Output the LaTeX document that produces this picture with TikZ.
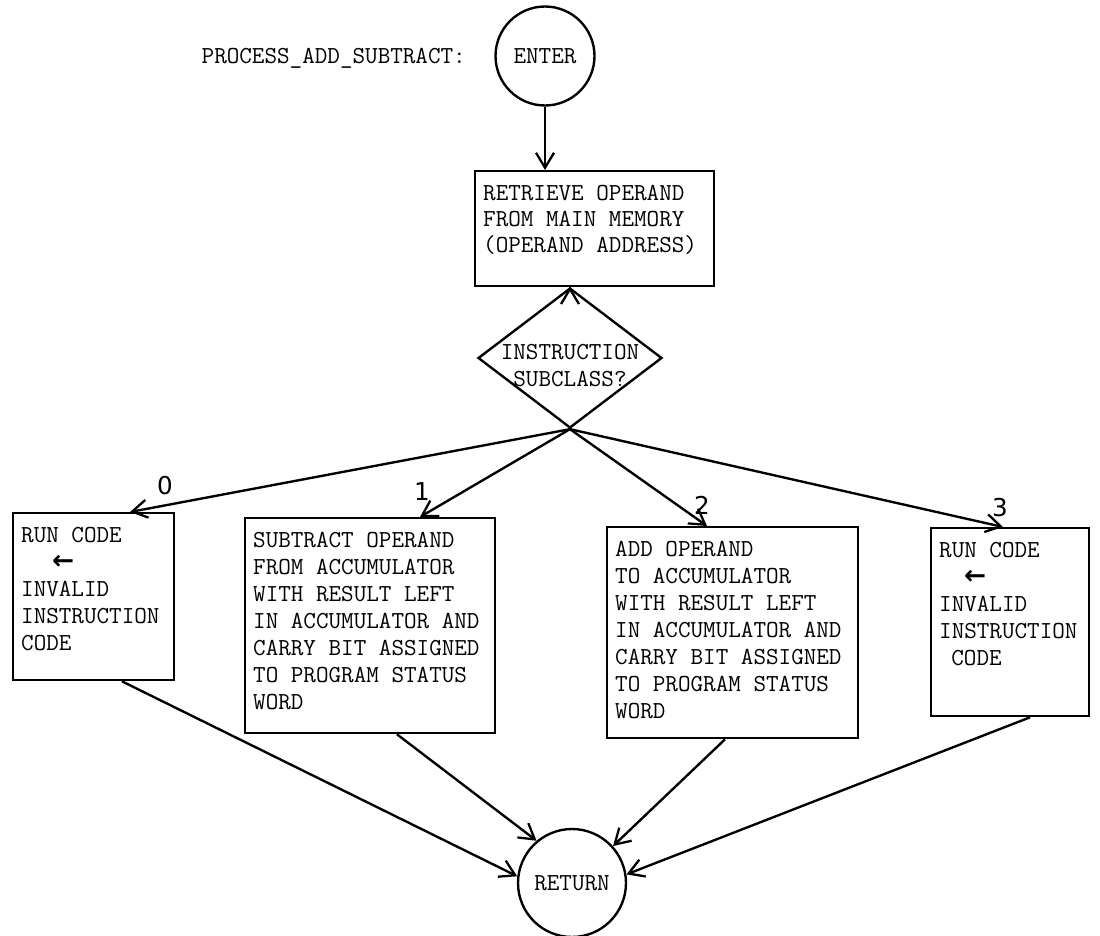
\documentclass[tikz,border=0pt]{standalone}
\usepackage{fontspec}
\newfontfamily\symfont{DejaVu Sans}
\usetikzlibrary{arrows.meta,shapes.geometric,calc}

% typewriter face used for all printed text
\newcommand\tw{\ttfamily\addfontfeature{FakeBold=1.6}}
% fixed-size, top-aligned text block for the process boxes
\newcommand\boxbody[3]{\begin{minipage}[t][#2][t]{#1}\raggedright #3\end{minipage}}
\newcommand\backarrow{{\symfont\bfseries\fontsize{15}{15.4}\selectfont ←}}

\begin{document}
\begin{tikzpicture}[x=0.02cm,y=-0.02cm,
  every node/.style={font=\tw\fontsize{13.9}{15.4}\selectfont},
  flow/.style={line width=1.35pt,-{Straight Barb[length=3mm,width=3.6mm,line width=1.3pt]}},
  procbox/.style={draw,rectangle,line width=1.35pt,inner xsep=0.16cm,inner ysep=0.28cm,anchor=north west},
  term/.style={draw,circle,line width=1.35pt,inner sep=0pt},
  decision/.style={draw,diamond,line width=1.35pt,inner sep=0pt},
  branch/.style={font=\symfont\fontsize{14}{14}\selectfont}
]
\useasboundingbox (0,0) rectangle (1100,936);

% entry point and its label
\node[term,minimum size=1.98cm] (enter) at (545,56) {ENTER};
\node[anchor=east] (title) at (472,58) {PROCESS\_ADD\_SUBTRACT:};

% operand fetch
\node[procbox,font=\tw\fontsize{13.9}{14.8}\selectfont] (fetch) at (474,170)
  {\boxbody{4.46cm}{1.74cm}{RETRIEVE OPERAND\\FROM MAIN MEMORY\\(OPERAND ADDRESS)}};

% subclass test
\node[decision,minimum width=3.68cm,minimum height=2.8cm] (dec) at (570,358) {};
\node[align=center,font=\tw\fontsize{13.9}{15.4}\selectfont] (dectext) at (570,366) {INSTRUCTION\\SUBCLASS?};

% the four branches
\node[procbox] (b0) at (12,512)
  {\boxbody{2.9cm}{2.78cm}{RUN CODE\\\hspace*{0.62cm}\backarrow\\INVALID\\INSTRUCTION\\CODE}};
\node[procbox] (b1) at (244,517)
  {\boxbody{4.68cm}{3.74cm}{SUBTRACT OPERAND\\FROM ACCUMULATOR\\WITH RESULT LEFT\\IN ACCUMULATOR AND\\CARRY BIT ASSIGNED\\TO PROGRAM STATUS\\WORD}};
\node[procbox] (b2) at (606,526)
  {\boxbody{4.7cm}{3.66cm}{ADD OPERAND\\TO ACCUMULATOR\\WITH RESULT LEFT\\IN ACCUMULATOR AND\\CARRY BIT ASSIGNED\\TO PROGRAM STATUS\\WORD}};
\node[procbox] (b3) at (930,527)
  {\boxbody{2.84cm}{3.2cm}{RUN CODE\\\hspace*{0.5cm}\backarrow\\INVALID\\INSTRUCTION\\\hspace*{0.5em}CODE}};

% exit point
\node[term,minimum size=2.16cm] (rtn) at (572,883) {RETURN};

% branch values
\node[branch] (v0) at (165,486) {0};
\node[branch] (v1) at (422,492) {1};
\node[branch] (v2) at (702,505) {2};
\node[branch] (v3) at (1000,508) {3};

% connectors
\draw[flow] (enter.south) -- (enter.south |- fetch.north);
\draw[flow] (fetch.south -| dec.north) -- (dec.north);
\draw[flow] (dec.south) -- ($(b0.north west)+(118,0)$);
\draw[flow] (dec.south) -- ($(b1.north west)+(176,0)$);
\draw[flow] (dec.south) -- ($(b2.north west)+(101,0)$);
\draw[flow] (dec.south) -- ($(b3.north west)+(73,0)$);
\draw[flow] ($(b0.south west)+(110,0)$) -- (rtn.173);
\draw[flow] ($(b1.south west)+(153,0)$) -- (rtn.130);
\draw[flow] ($(b2.south west)+(119,0)$) -- (rtn.42);
\draw[flow] ($(b3.south west)+(100,0)$) -- (rtn.9);
\end{tikzpicture}
\end{document}
